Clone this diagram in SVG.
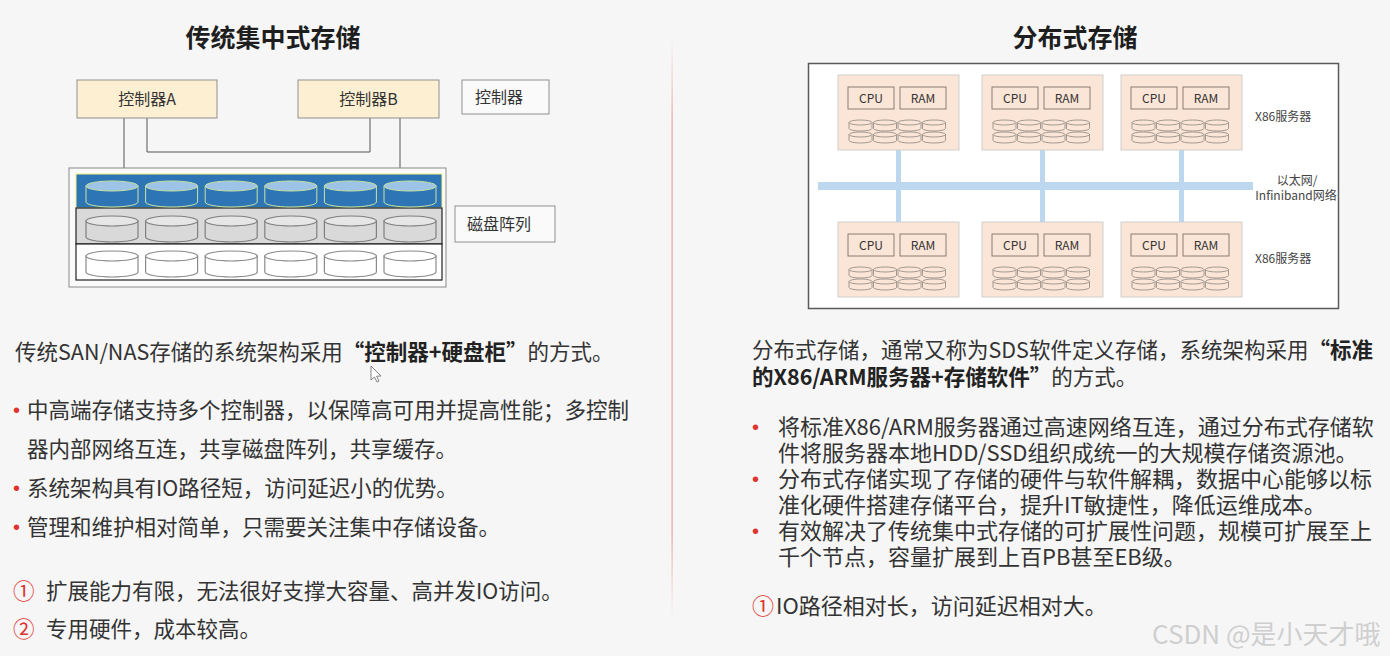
<svg xmlns="http://www.w3.org/2000/svg" xmlns:xlink="http://www.w3.org/1999/xlink" width="1390" height="656" viewBox="0 0 1390 656">
<style>
text{font-family:"Noto Sans CJK SC","Liberation Sans",sans-serif;fill:#333}
.title{font-size:25px;font-weight:bold;fill:#1e1e1e;text-anchor:middle}
.lbl{font-size:16px;fill:#333}
.ctrl{fill:#fdf0d2;stroke:#8f8f8f;stroke-width:1}
.legend{fill:#fafafa;stroke:#8f8f8f;stroke-width:1}
.wire{fill:none;stroke:#555;stroke-width:1}
.srv{fill:#fbe5d6;stroke:#cfcfcf;stroke-width:1}
.chip{fill:#fbe5d6;stroke:#8a7d75;stroke-width:1}
.chipT{font-size:12px;text-anchor:middle;fill:#333}
.net{stroke:#bdd7ee;fill:none}
.small{font-size:12px;fill:#444}
.pL{font-size:21.5px}
.pR{font-size:22px}
.pR2{font-size:21.5px}
.b{font-weight:bold;fill:#222}
.red{fill:#e0322f}
.dot{font-family:"Liberation Sans",sans-serif;font-size:20px;fill:#e0322f}
.wm{font-size:26px;fill:#cfcfcf;font-family:"Noto Sans CJK SC","Liberation Sans",sans-serif}
</style>
<defs>
<linearGradient id="div" x1="0" y1="0" x2="0" y2="1">
<stop offset="0" stop-color="#e89a94" stop-opacity="0"/>
<stop offset="0.15" stop-color="#e89a94" stop-opacity="0.9"/>
<stop offset="0.85" stop-color="#e89a94" stop-opacity="0.9"/>
<stop offset="1" stop-color="#e89a94" stop-opacity="0"/>
</linearGradient>
<g id="cb"><path d="M0,5 V21 A26,5 0 0 0 52,21 V5 Z" fill="#2e75b6" stroke="#c9e3a0" stroke-width="1"/><ellipse cx="26" cy="5" rx="26" ry="5" fill="#9dc3e6" stroke="#c9e3a0" stroke-width="1"/></g>
<g id="cg"><path d="M0,5 V21 A26,5 0 0 0 52,21 V5 Z" fill="#d9d9d9" stroke="#7f7f7f" stroke-width="1.2"/><ellipse cx="26" cy="5" rx="26" ry="5" fill="#e6e6e6" stroke="#7f7f7f" stroke-width="1.2"/></g>
<g id="cw"><path d="M0,5 V21 A26,5 0 0 0 52,21 V5 Z" fill="#ffffff" stroke="#8a8a8a" stroke-width="1.2"/><ellipse cx="26" cy="5" rx="26" ry="5" fill="#ffffff" stroke="#8a8a8a" stroke-width="1.2"/></g>
<g id="sd"><path d="M0,2.5 V8.5 A11.5,2.5 0 0 0 23,8.5 V2.5 Z" fill="#fbe5d6" stroke="#8c8580" stroke-width="0.8"/><ellipse cx="11.5" cy="2.5" rx="11.5" ry="2.5" fill="#fbe5d6" stroke="#8c8580" stroke-width="0.8"/></g>
<g id="disks8">
<use href="#sd" x="11" y="45"/><use href="#sd" x="35.5" y="45"/><use href="#sd" x="60" y="45"/><use href="#sd" x="84.5" y="45"/>
<use href="#sd" x="11" y="57"/><use href="#sd" x="35.5" y="57"/><use href="#sd" x="60" y="57"/><use href="#sd" x="84.5" y="57"/>
</g>
</defs>
<rect width="1390" height="656" fill="#f6f6f6"/>
<rect x="671.5" y="38" width="1.2" height="580" fill="url(#div)"/>

<g id="title-left"><text class="title" x="273" y="47">传统集中式存储</text></g>
<g id="title-right"><text class="title" x="1075" y="47">分布式存储</text></g>

<!-- Left diagram -->
<g id="connectors-left">
<path class="wire" d="M124,118 V176"/>
<path class="wire" d="M147,118 V152 H370 V118"/>
<path class="wire" d="M400,118 V176"/>
</g>
<g id="ctrlA"><rect class="ctrl" x="77" y="80" width="140" height="38"/><text class="lbl" x="147" y="104.5" text-anchor="middle">控制器A</text></g>
<g id="ctrlB"><rect class="ctrl" x="298" y="80" width="141" height="38"/><text class="lbl" x="368.5" y="104.5" text-anchor="middle">控制器B</text></g>
<g id="legend-ctrl"><rect class="legend" x="462" y="80" width="87" height="34"/><text class="lbl" x="475" y="102.5">控制器</text></g>
<g id="disk-array">
<rect x="69" y="168" width="377" height="119" fill="#fafafa" stroke="#8a8a8a" stroke-width="1"/>
<rect x="76" y="174" width="366" height="34" fill="#2e75b6" stroke="#f2f27a" stroke-width="1"/>
<rect x="76" y="208" width="366" height="36" fill="#d9d9d9" stroke="#222" stroke-width="1.2"/>
<rect x="76" y="244" width="366" height="36" fill="#ffffff" stroke="#222" stroke-width="1.2"/>
<use href="#cb" x="86" y="181"/><use href="#cb" x="145.6" y="181"/><use href="#cb" x="205.2" y="181"/><use href="#cb" x="264.8" y="181"/><use href="#cb" x="324.4" y="181"/><use href="#cb" x="384" y="181"/>
<use href="#cg" x="86" y="216"/><use href="#cg" x="145.6" y="216"/><use href="#cg" x="205.2" y="216"/><use href="#cg" x="264.8" y="216"/><use href="#cg" x="324.4" y="216"/><use href="#cg" x="384" y="216"/>
<use href="#cw" x="86" y="251"/><use href="#cw" x="145.6" y="251"/><use href="#cw" x="205.2" y="251"/><use href="#cw" x="264.8" y="251"/><use href="#cw" x="324.4" y="251"/><use href="#cw" x="384" y="251"/>
</g>
<g id="legend-disk"><rect class="legend" x="455" y="206" width="100" height="36"/><text class="lbl" x="467" y="229.5">磁盘阵列</text></g>

<!-- Right diagram -->
<g id="frame-right"><rect x="808.5" y="63.5" width="530" height="245" fill="#ffffff" stroke="#5a5a5a" stroke-width="1.5"/></g>
<g id="connectors-right">
<path class="net" stroke-width="8" d="M818,186 H1253"/>
<path class="net" stroke-width="5" d="M898.5,150 V222"/>
<path class="net" stroke-width="5" d="M1042.5,150 V222"/>
<path class="net" stroke-width="5" d="M1181.5,150 V222"/>
</g>
<g id="srv1" transform="translate(838,75)"><rect class="srv" width="121" height="75"/><rect class="chip" x="10" y="12" width="46" height="22"/><rect class="chip" x="62" y="12" width="46" height="22"/><text class="chipT" x="33" y="27.5">CPU</text><text class="chipT" x="85" y="27.5">RAM</text><use href="#disks8"/></g>
<g id="srv2" transform="translate(982,75)"><rect class="srv" width="121" height="75"/><rect class="chip" x="10" y="12" width="46" height="22"/><rect class="chip" x="62" y="12" width="46" height="22"/><text class="chipT" x="33" y="27.5">CPU</text><text class="chipT" x="85" y="27.5">RAM</text><use href="#disks8"/></g>
<g id="srv3" transform="translate(1121,75)"><rect class="srv" width="121" height="75"/><rect class="chip" x="10" y="12" width="46" height="22"/><rect class="chip" x="62" y="12" width="46" height="22"/><text class="chipT" x="33" y="27.5">CPU</text><text class="chipT" x="85" y="27.5">RAM</text><use href="#disks8"/></g>
<g id="srv4" transform="translate(838,222)"><rect class="srv" width="121" height="75"/><rect class="chip" x="10" y="12" width="46" height="22"/><rect class="chip" x="62" y="12" width="46" height="22"/><text class="chipT" x="33" y="27.5">CPU</text><text class="chipT" x="85" y="27.5">RAM</text><use href="#disks8"/></g>
<g id="srv5" transform="translate(982,222)"><rect class="srv" width="121" height="75"/><rect class="chip" x="10" y="12" width="46" height="22"/><rect class="chip" x="62" y="12" width="46" height="22"/><text class="chipT" x="33" y="27.5">CPU</text><text class="chipT" x="85" y="27.5">RAM</text><use href="#disks8"/></g>
<g id="srv6" transform="translate(1121,222)"><rect class="srv" width="121" height="75"/><rect class="chip" x="10" y="12" width="46" height="22"/><rect class="chip" x="62" y="12" width="46" height="22"/><text class="chipT" x="33" y="27.5">CPU</text><text class="chipT" x="85" y="27.5">RAM</text><use href="#disks8"/></g>
<g id="labels-right">
<text class="small" x="1255" y="121">X86服务器</text>
<text class="small" x="1297" y="185" text-anchor="middle">以太网/</text>
<text class="small" x="1296" y="200" text-anchor="middle">Infiniband网络</text>
<text class="small" x="1255" y="263">X86服务器</text>
</g>

<!-- Left text -->
<g id="text-left">
<text class="pL" x="15" y="360">传统SAN/NAS存储的系统架构采用<tspan class="b">“控制器+硬盘柜”</tspan>的方式。</text>
<text class="dot" x="13" y="417">•</text><text class="pL" x="27" y="418">中高端存储支持多个控制器，以保障高可用并提高性能；多控制</text>
<text class="pL" x="27" y="457">器内部网络互连，共享磁盘阵列，共享缓存。</text>
<text class="dot" x="13" y="495">•</text><text class="pL" x="27" y="496">系统架构具有IO路径短，访问延迟小的优势。</text>
<text class="dot" x="13" y="534">•</text><text class="pL" x="27" y="535">管理和维护相对简单，只需要关注集中存储设备。</text>
<text class="pL red" x="13" y="599">①</text><text class="pL" x="46" y="599">扩展能力有限，无法很好支撑大容量、高并发IO访问。</text>
<text class="pL red" x="13" y="637">②</text><text class="pL" x="46" y="637">专用硬件，成本较高。</text>
</g>
<path id="cursor" d="M371,366 L371,380 L374.5,377 L377,382 L379,381 L376.6,376.2 L381,376 Z" fill="#ffffff" stroke="#666" stroke-width="0.8"/>

<!-- Right text -->
<g id="text-right">
<text class="pR2" x="752" y="358">分布式存储，通常又称为SDS软件定义存储，系统架构采用<tspan class="b">“标准</tspan></text>
<text class="pR2" x="752" y="385"><tspan class="b">的X86/ARM服务器+存储软件”</tspan>的方式。</text>
<text class="dot" x="752" y="434">•</text><text class="pR" x="778" y="435">将标准X86/ARM服务器通过高速网络互连，通过分布式存储软</text>
<text class="pR" x="778" y="461">件将服务器本地HDD/SSD组织成统一的大规模存储资源池。</text>
<text class="dot" x="752" y="486">•</text><text class="pR" x="778" y="487">分布式存储实现了存储的硬件与软件解耦，数据中心能够以标</text>
<text class="pR" x="778" y="513">准化硬件搭建存储平台，提升IT敏捷性，降低运维成本。</text>
<text class="dot" x="752" y="538">•</text><text class="pR" x="778" y="539">有效解决了传统集中式存储的可扩展性问题，规模可扩展至上</text>
<text class="pR" x="778" y="565">千个节点，容量扩展到上百PB甚至EB级。</text>
<text class="pR red" x="752" y="614">①</text><text class="pR" x="776" y="614">IO路径相对长，访问延迟相对大。</text>
</g>
<g id="watermark"><text class="wm" x="1152" y="644">CSDN @是小天才哦</text></g>
</svg>
